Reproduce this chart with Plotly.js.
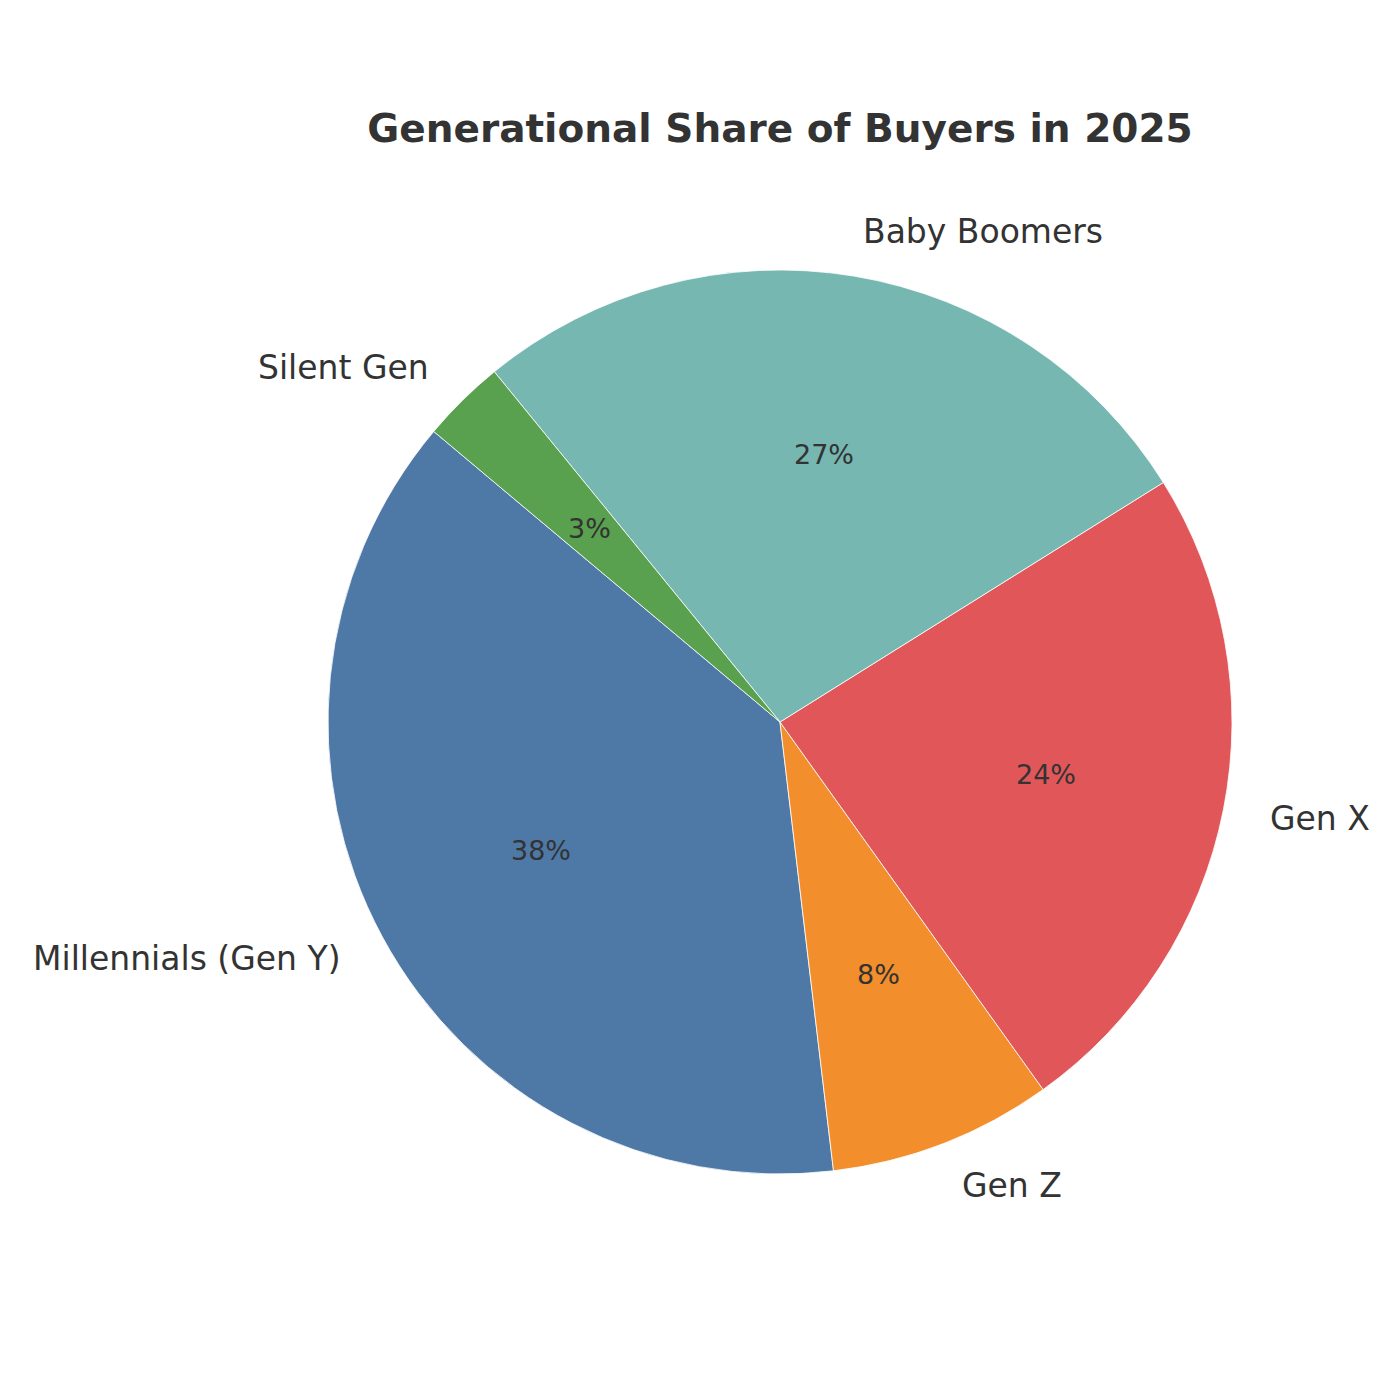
<!DOCTYPE html>
<html>
<head>
<meta charset="utf-8">
<script src="https://cdn.plot.ly/plotly-3.0.1.min.js"></script>
<style>html,body{margin:0;padding:0;background:#fff;}</style>
</head>
<body>
<div id="chart" style="width:1400px;height:1400px;"></div>
<script>
const categories = ["Millennials (Gen Y)", "Gen Z", "Gen X", "Baby Boomers", "Silent Gen"];
const shares = [38, 8, 24, 27, 3];
const colors = ["#4e79a7", "#f28e2b", "#e15759", "#76b7b2", "#59a14f"];
const chartTitle = "Generational Share of Buyers in 2025";

const startAngle = 140;      // degrees, counterclockwise from 3 o'clock
const labelDistance = 1.1;
const pctDistance = 0.6;
const textColor = "#333333";
const fontFamily = "DejaVu Sans, sans-serif";

const total = shares.reduce((a, b) => a + b, 0);
const annotations = [];
let acc = 0;
shares.forEach((v, i) => {
  const mid = (startAngle + 360 * (acc + v / 2) / total) * Math.PI / 180;
  acc += v;
  const c = Math.cos(mid), s = Math.sin(mid);
  annotations.push({
    xref: "paper", yref: "paper",
    x: 0.5 + 0.5 * labelDistance * c, y: 0.5 + 0.5 * labelDistance * s,
    text: categories[i], showarrow: false,
    xanchor: c >= 0 ? "left" : "right", yanchor: "middle",
    font: {family: fontFamily, size: 33, color: textColor}
  });
  annotations.push({
    xref: "paper", yref: "paper",
    x: 0.5 + 0.5 * pctDistance * c, y: 0.5 + 0.5 * pctDistance * s,
    text: Math.round(v / total * 100) + "%", showarrow: false,
    xanchor: "center", yanchor: "middle",
    font: {family: fontFamily, size: 27, color: textColor}
  });
});

// Plotly anchors the end of the first slice at the rotation point for counterclockwise pies
const firstEnd = startAngle + 360 * shares[0] / total;

const trace = {
  type: "pie",
  labels: categories,
  values: shares,
  sort: false,
  direction: "counterclockwise",
  rotation: 90 - firstEnd,
  textinfo: "none",
  hoverinfo: "label+percent",
  marker: {colors: colors, line: {color: "#ffffff", width: 0.8}},
  showlegend: false,
  automargin: false
};

const layout = {
  width: 1400, height: 1400,
  margin: {l: 328, r: 168, t: 270, b: 226},
  paper_bgcolor: "#ffffff",
  plot_bgcolor: "#ffffff",
  showlegend: false,
  title: {
    text: chartTitle,
    font: {family: fontFamily, size: 39, color: textColor, weight: "bold"},
    x: 0.5, xref: "paper", xanchor: "center",
    y: 1 - 128 / 1400, yref: "container", yanchor: "middle"
  },
  annotations: annotations
};

Plotly.newPlot("chart", [trace], layout, {displayModeBar: false, staticPlot: true});
</script>
</body>
</html>
